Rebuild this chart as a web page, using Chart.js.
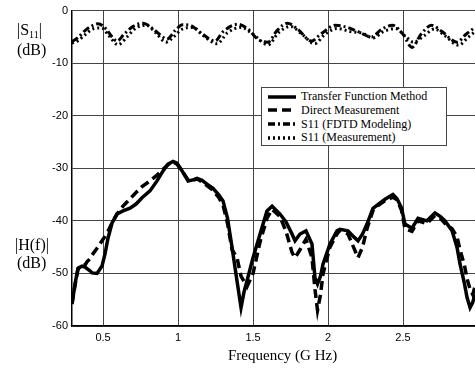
<!DOCTYPE html>
<html>
<head>
<meta charset="utf-8">
<script src="https://cdn.jsdelivr.net/npm/chart.js@4"></script>
<style>
    body { margin: 0; background: #fff; }
    #wrap { position: relative; width: 475px; height: 369px; overflow: hidden; }
    .side-label { position: absolute; font-family: 'Liberation Serif', serif; font-size: 16px; color: #000; line-height: 17px; }
    .side-label sub { font-size: 10px; vertical-align: -3px; }
    #x-title { position: absolute; left: 228px; top: 347px; font-family: 'Liberation Serif', serif; font-size: 15px; color: #000; }
    #legend { position: absolute; left: 261px; top: 87px; width: 184px; height: 57px; background: #fff;
              border: 1px solid #444; font-family: 'Liberation Serif', serif; font-size: 12px; color: #000; }
    .legend-row { position: absolute; left: 6px; height: 13px; display: flex; align-items: center; }
    .legend-row svg { margin-right: 5px; }
</style>
</head>
<body>
<div id="wrap">
    <canvas id="chart" width="475" height="369"></canvas>
    <div class="side-label" style="left:17px; top:21px;">|S<sub>11</sub>|</div>
    <div class="side-label" style="left:17px; top:41px;">(dB)</div>
    <div class="side-label" style="left:15px; top:236px;">|H(f)|</div>
    <div class="side-label" style="left:17px; top:254px;">(dB)</div>
    <div id="x-title">Frequency (G Hz)</div>
    <div id="legend"></div>
</div>
<script>
// Axis ticks
const xTicks = [0.5, 1, 1.5, 2, 2.5];
const yTicks = [0, -10, -20, -30, -40, -50, -60];

// |H(f)| curves share one frequency grid (GHz)
const freqs = [0.293, 0.313, 0.333, 0.36, 0.38, 0.393, 0.413, 0.427, 0.46, 0.493,
    0.513, 0.533, 0.56, 0.593, 0.633, 0.68, 0.72, 0.76, 0.813, 0.86,
    0.9, 0.933, 0.967, 0.993, 1.027, 1.067, 1.1, 1.127, 1.16, 1.193,
    1.233, 1.27, 1.3, 1.33, 1.36, 1.393, 1.42, 1.44, 1.46, 1.5,
    1.547, 1.593, 1.627, 1.68, 1.72, 1.76, 1.78, 1.813, 1.853, 1.893,
    1.913, 1.93, 1.95, 1.967, 2.013, 2.06, 2.08, 2.133, 2.17, 2.2,
    2.23, 2.26, 2.3, 2.347, 2.38, 2.433, 2.46, 2.49, 2.513, 2.56,
    2.6, 2.66, 2.713, 2.75, 2.78, 2.827, 2.86, 2.88, 2.91, 2.927,
    2.947, 2.965, 2.98];

const transferFunction = [-55.8, -52, -49, -48.6, -48.8, -49.1, -49.5, -49.9, -50, -48.6,
    -46.3, -43.3, -40.4, -38.7, -38.1, -37.6, -36.8, -35.6, -34.3, -32.4,
    -30.5, -29.2, -28.7, -29, -30.5, -32.4, -32.2, -31.9, -32.3, -33,
    -33.8, -35, -36.2, -39.5, -45, -51.4, -56.5, -53.5, -51.4, -47,
    -42.5, -38.1, -37.2, -38.7, -40.2, -42.5, -43.8, -42.5, -41.9, -44.4,
    -50.8, -52, -50.5, -48.2, -44.4, -41.9, -41.6, -41.9, -43, -43.8,
    -42.5, -40.6, -37.6, -36.6, -35.9, -35, -35.8, -37.5, -40.6, -41.4,
    -39.5, -40, -38.5, -39.2, -40, -41.9, -45, -48.2, -52, -54.6,
    -56.5, -55.5, -54];

const directMeasurement = [-55.8, -52.3, -49.2, -48.6, -48.4, -47.8, -47.2, -46.5, -45.2, -43.8,
    -43, -42, -40.4, -38.7, -37.2, -35.8, -34.6, -33.5, -32.4, -31.3,
    -30.2, -29.3, -28.8, -29.2, -30.5, -32.2, -32.3, -32, -32.6, -33.3,
    -34.2, -35.5, -37, -40.5, -45.5, -47, -50.5, -51.5, -52.5, -50,
    -44, -39.5, -37.8, -39.2, -42, -46, -47, -45.5, -43.5, -47,
    -53, -57, -54, -50, -45, -42.5, -41.8, -42.5, -45, -47,
    -45, -41.5, -38, -36.8, -36.2, -35.5, -36, -38, -41.5, -42,
    -40, -40.5, -39, -39.5, -40.5, -41.5, -43, -45.5, -48.5, -51,
    -53, -54, -52.5];

// S11 curves
const s11SimFreqs = [0.293, 0.33, 0.38, 0.42, 0.467, 0.52, 0.56, 0.593, 0.64, 0.7,
    0.767, 0.83, 0.88, 0.927, 0.98, 1.03, 1.08, 1.15, 1.247, 1.3,
    1.4, 1.47, 1.53, 1.6, 1.66, 1.73, 1.8, 1.89, 1.95, 2.05,
    2.13, 2.2, 2.29, 2.36, 2.43, 2.5, 2.56, 2.62, 2.69, 2.76,
    2.86, 2.92, 2.98];
const s11Sim = [-5.9, -5.2, -3.8, -3, -2.5, -3.5, -5, -5.8, -4.5, -3,
    -2.4, -3.4, -4.6, -5.4, -3.8, -2.7, -2.8, -4.2, -5.8, -4,
    -2.6, -3.6, -5.4, -6, -3.8, -2.4, -3.6, -5.8, -4.5, -2.8,
    -3.2, -4, -5, -3.5, -2.8, -4.5, -7, -4.5, -2.8, -4,
    -6, -4.5, -3.2];

const s11MeasFreqs = [0.293, 0.33, 0.38, 0.44, 0.49, 0.54, 0.6, 0.66, 0.72, 0.79,
    0.85, 0.92, 0.97, 1.03, 1.1, 1.17, 1.26, 1.33, 1.42, 1.5,
    1.6, 1.67, 1.75, 1.83, 1.91, 1.98, 2.06, 2.15, 2.23, 2.3,
    2.37, 2.45, 2.52, 2.57, 2.64, 2.71, 2.78, 2.87, 2.93, 2.98];
const s11Meas = [-6.2, -5.8, -4.6, -3.4, -3.3, -4.8, -6.5, -5, -3.3, -2.8,
    -4.2, -6, -5, -3.5, -3.2, -4.8, -6.3, -4.2, -3.2, -4.5,
    -6.5, -4.2, -3, -4.6, -6.3, -4.5, -3.4, -4, -4.3, -5.2,
    -4, -3.4, -5, -6, -4.8, -3.5, -4.8, -6.6, -5.2, -4];

const seriesLabels = ['Transfer Function Method', 'Direct Measurement', 'S11 (FDTD Modeling)', 'S11 (Measurement)'];
const seriesDash = [[], [9, 5], [7, 3, 2, 3], [2, 3]];

function toPoints(xs, ys) {
    return xs.map((x, i) => ({ x: x, y: ys[i] }));
}

function buildLegend() {
    const legend = document.getElementById('legend');
    const tops = [2, 15.5, 29.5, 43];
    seriesLabels.forEach((label, i) => {
        const row = document.createElement('div');
        row.className = 'legend-row';
        row.style.top = tops[i] + 'px';
        const dash = seriesDash[i].join(' ');
        row.innerHTML = `
            <svg width="28" height="6"><line x1="0" y1="3" x2="28" y2="3" stroke="#000"
                stroke-width="3.5" stroke-dasharray="${dash}"/></svg>
            <span>${label}</span>`;
        legend.appendChild(row);
    });
}

function initChart() {
    const ctx = document.getElementById('chart').getContext('2d');
    Chart.defaults.font.family = "'Liberation Sans', Arial, sans-serif";
    Chart.defaults.color = '#000';

    new Chart(ctx, {
        type: 'line',
        data: {
            datasets: [
                { label: seriesLabels[0], data: toPoints(freqs, transferFunction),
                  borderColor: '#000', borderWidth: 3.5, borderDash: seriesDash[0], tension: 0 },
                { label: seriesLabels[1], data: toPoints(freqs, directMeasurement),
                  borderColor: '#000', borderWidth: 3.5, borderDash: seriesDash[1], tension: 0 },
                { label: seriesLabels[2], data: toPoints(s11SimFreqs, s11Sim),
                  borderColor: '#000', borderWidth: 3, borderDash: seriesDash[2], cubicInterpolationMode: 'monotone' },
                { label: seriesLabels[3], data: toPoints(s11MeasFreqs, s11Meas),
                  borderColor: '#000', borderWidth: 3, borderDash: seriesDash[3], cubicInterpolationMode: 'monotone' }
            ]
        },
        options: {
            responsive: false,
            animation: false,
            layout: { padding: { top: 9, right: 0, left: 0, bottom: 0 } },
            elements: { point: { radius: 0 } },
            scales: {
                x: {
                    type: 'linear',
                    min: 0.293,
                    max: 2.98,
                    afterBuildTicks: (scale) => { scale.ticks = xTicks.map(v => ({ value: v })); },
                    afterFit: (scale) => { scale.height = 43; },
                    grid: { color: '#444', lineWidth: 1, drawTicks: false },
                    border: { color: '#000', width: 1.5 },
                    ticks: { padding: 5, font: { size: 11 }, maxRotation: 0, callback: (v) => String(v) }
                },
                y: {
                    min: -60,
                    max: 0,
                    afterBuildTicks: (scale) => { scale.ticks = yTicks.map(v => ({ value: v })); },
                    afterFit: (scale) => { scale.width = 72; },
                    grid: { color: '#444', lineWidth: 1, drawTicks: false },
                    border: { color: '#000', width: 1.5 },
                    ticks: { padding: 4, font: { size: 11 }, callback: (v) => String(v) }
                }
            },
            plugins: {
                legend: { display: false },
                tooltip: { enabled: false }
            }
        }
    });
}

buildLegend();
initChart();
</script>
</body>
</html>
